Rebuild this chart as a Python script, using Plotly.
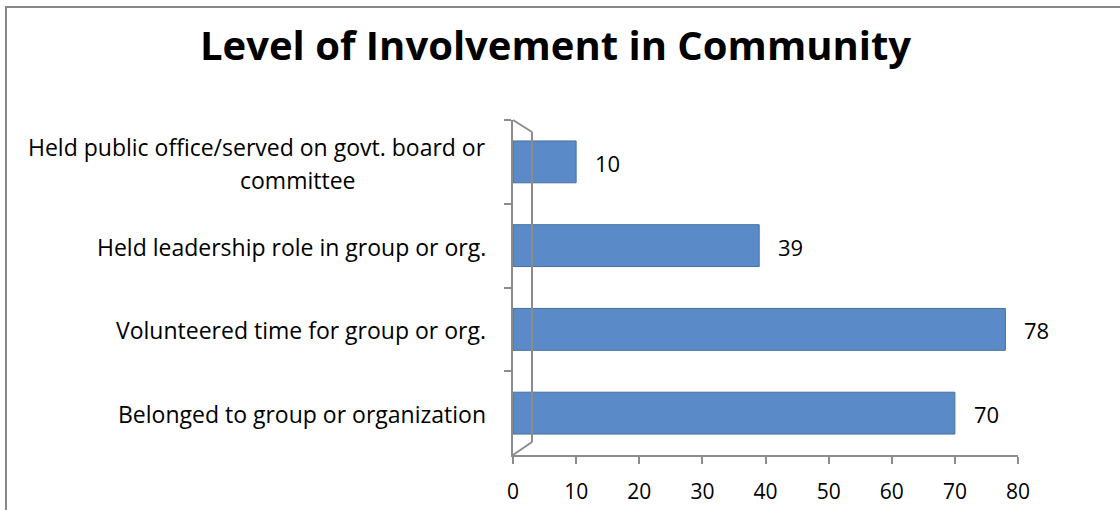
import plotly.graph_objects as go

# Survey results: share of respondents (%) by type of community involvement
categories = [
    "Held public office/served on govt. board or<br>committee",
    "Held leadership role in group or org.",
    "Volunteered time for group or org.",
    "Belonged to group or organization",
]
values = [10, 39, 78, 70]
x_ticks = [0, 10, 20, 30, 40, 50, 60, 70, 80]

FONT = "'Open Sans', sans-serif"
BAR = "#5A8AC7"
EDGE = "#46709F"
AXIS = "#8C8C8C"

# plot area in pixels
L, R, T, B = 513, 1018, 120, 455
W, H = 1120, 510
pw, ph = R - L, B - T


def px(x):
    return (x - L) / pw


def py(y):
    return (B - y) / ph


fig = go.Figure(
    go.Bar(
        x=values,
        y=categories,
        orientation="h",
        marker=dict(color=BAR, line=dict(color=EDGE, width=1)),
        width=0.5,
        hoverinfo="x+y",
    )
)

annotations = []
# value labels beside each bar
for c, v in zip(categories, values):
    annotations.append(dict(
        x=v, y=c, xref="x", yref="y", text=str(v), showarrow=False,
        xanchor="left", xshift=17, yshift=-1,
        font=dict(size=22, family=FONT, color="black"),
    ))

# category labels: first line right-aligned, wrapped continuation centred below it
LABEL_RIGHT = 488
CONT_CENTRE = 297
for c in categories:
    lines = c.split("<br>")
    n = len(lines)
    for i, line in enumerate(lines):
        first = i == 0
        annotations.append(dict(
            x=px(LABEL_RIGHT if first else CONT_CENTRE), y=c, xref="paper", yref="y",
            text=line, showarrow=False,
            xanchor="right" if first else "center",
            yshift=(n - 1) * 16 - i * 33 - 1,
            font=dict(size=23, family=FONT, color="black"),
        ))

# title
annotations.append(dict(
    x=px(555), y=py(44), xref="paper", yref="paper",
    text="<b>Level of Involvement in Community</b>",
    showarrow=False, xanchor="center", yanchor="middle",
    font=dict(size=40, family=FONT, color="black"),
))

shapes = [
    # outer chart frame
    dict(type="rect", xref="paper", yref="paper",
         x0=px(6), x1=px(1130), y0=py(7), y1=py(520),
         line=dict(color="#868686", width=2), fillcolor="rgba(0,0,0,0)", layer="below"),
    # back wall edges of the 3D frame
    dict(type="line", xref="paper", yref="paper", x0=px(513), y0=py(120), x1=px(532), y1=py(132),
         line=dict(color=AXIS, width=2)),
    dict(type="line", xref="paper", yref="paper", x0=px(532), y0=py(132), x1=px(532), y1=py(442),
         line=dict(color=AXIS, width=2)),
    dict(type="line", xref="paper", yref="paper", x0=px(532), y0=py(442), x1=px(513), y1=py(455),
         line=dict(color=AXIS, width=2)),
]

fig.update_layout(
    width=W, height=H,
    margin=dict(l=L, r=W - R, t=T, b=H - B, autoexpand=False),
    paper_bgcolor="white", plot_bgcolor="white",
    showlegend=False,
    annotations=annotations,
    shapes=shapes,
    xaxis=dict(
        range=[0, 80], tickvals=x_ticks, showgrid=False, zeroline=False,
        showline=True, linecolor=AXIS, linewidth=2,
        ticks="outside", ticklen=7, tickcolor=AXIS, tickwidth=2,
        ticklabelstandoff=10, automargin=False,
        tickfont=dict(size=21, family=FONT, color="black"),
    ),
    yaxis=dict(
        autorange="reversed", showgrid=False, zeroline=False,
        showline=True, linecolor=AXIS, linewidth=2,
        ticks="outside", ticklen=7, tickcolor=AXIS, tickwidth=2,
        tickson="boundaries", showticklabels=False, automargin=False,
    ),
)

fig.write_html("out.html")
